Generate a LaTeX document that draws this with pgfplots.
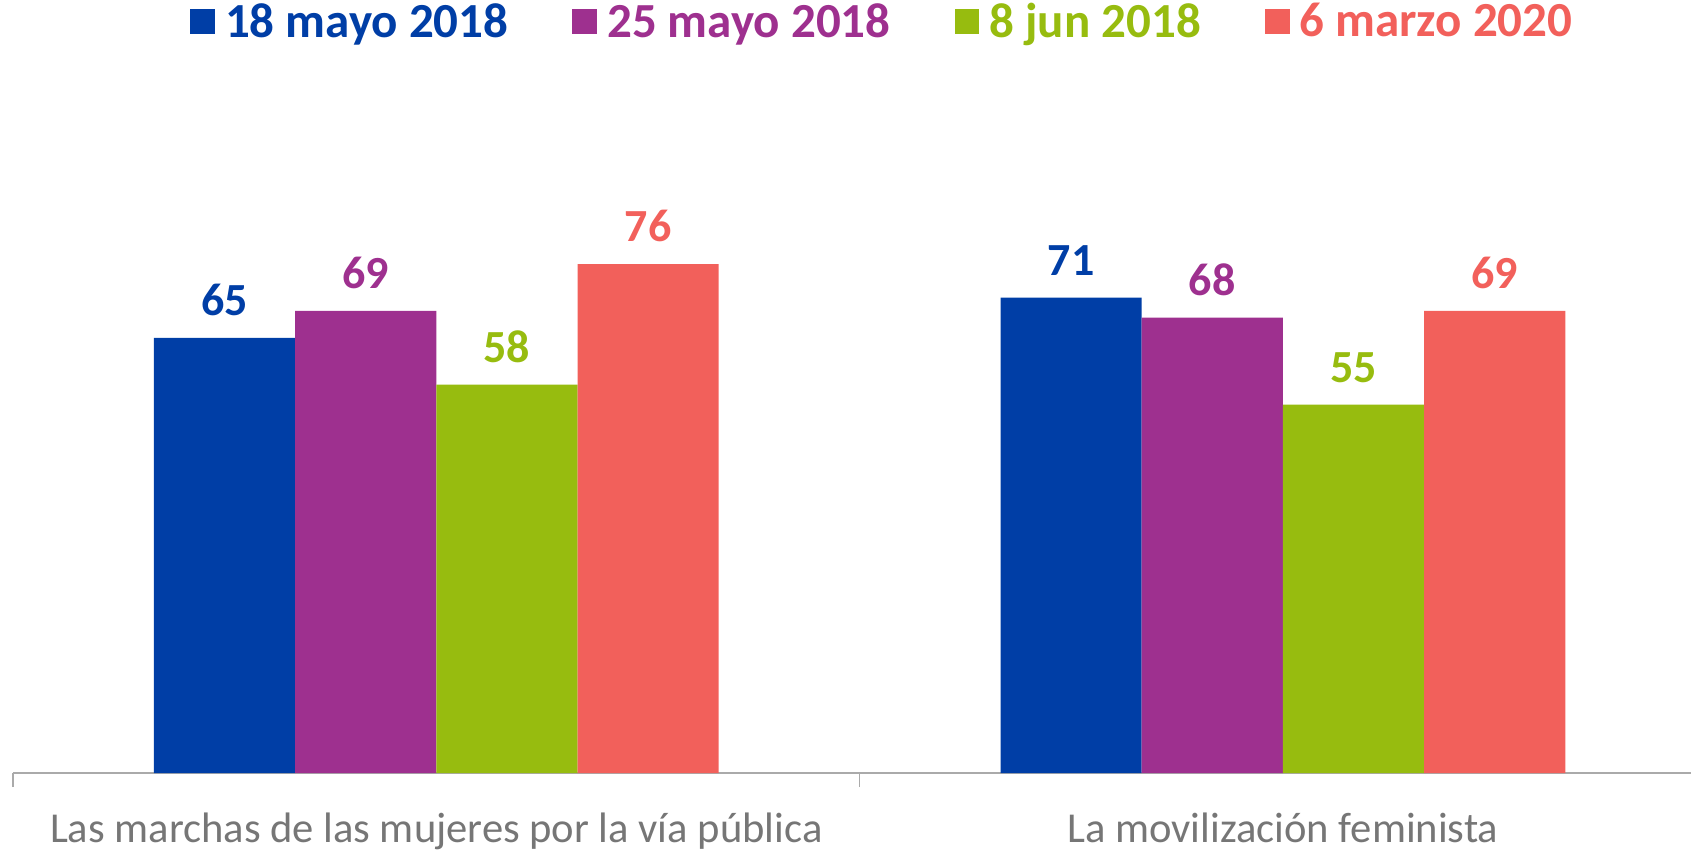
\documentclass[border=0pt]{standalone}
\usepackage{pgfplots}
\pgfplotsset{compat=1.18}
\usepackage{fontspec}
\setmainfont{Carlito}
\definecolor{cblue}{RGB}{0,62,166}
\definecolor{cpurple}{RGB}{158,48,143}
\definecolor{cgreen}{RGB}{151,188,15}
\definecolor{cred}{RGB}{242,96,91}
\definecolor{tickgray}{RGB}{118,118,118}
\definecolor{axgray}{RGB}{170,170,170}
\begin{document}
\begin{tikzpicture}
\begin{axis}[
  scale only axis,
  width=846.6pt, height=334.8pt,
  xmin=-0.5, xmax=1.5, ymin=0, ymax=100,
  enlargelimits=false, clip=false,
  ybar, bar width=70.6pt,
  /pgf/number format/assume math mode=true,
  axis y line=none,
  axis x line*=bottom,
  axis line style={axgray, line width=0.7pt},
  xtick={0,1},
  xticklabels={Las marchas de las mujeres por la vía pública, La movilización feminista},
  xtick style={draw=none},
  xticklabel style={font=\fontsize{21.3}{24}\selectfont, text=tickgray, yshift=-12pt},
  extra x ticks={-0.5,0.5,1.5},
  extra x tick labels={},
  extra x tick style={xtick style={draw=axgray, line width=0.7pt}, major tick length=7pt, tick align=outside},
  legend columns=4,
  legend style={draw=none, fill=none, at={(0.514,1.122)}, anchor=center,
    font=\bfseries\fontsize{24.5}{26}\selectfont,
    /tikz/every odd column/.append style={column sep=3pt},
    /tikz/every even column/.append style={column sep=30pt}},
  legend image code/.code={\fill[#1] (0pt,-6.2pt) rectangle (12.4pt,6.2pt);},
  every node near coord/.append style={font=\bfseries\fontsize{23}{25}\selectfont, yshift=7.5pt},
]
\addplot[fill=cblue, draw=none, bar shift=-105.9pt, nodes near coords, every node near coord/.append style={text=cblue}]
  coordinates {(0,65) (1,71)};
\addplot[fill=cpurple, draw=none, bar shift=-35.3pt, nodes near coords, every node near coord/.append style={text=cpurple}]
  coordinates {(0,69) (1,68)};
\addplot[fill=cgreen, draw=none, bar shift=35.3pt, nodes near coords, every node near coord/.append style={text=cgreen}]
  coordinates {(0,58) (1,55)};
\addplot[fill=cred, draw=none, bar shift=105.9pt, nodes near coords, every node near coord/.append style={text=cred}]
  coordinates {(0,76) (1,69)};
\legend{\textcolor{cblue}{18 mayo 2018}, \textcolor{cpurple}{25 mayo 2018}, \textcolor{cgreen}{8 jun 2018}, \textcolor{cred}{6 marzo 2020}}
\end{axis}
\pgfresetboundingbox
\useasboundingbox (-6.5pt,-39.5pt) rectangle (839pt,386.5pt);
\end{tikzpicture}
\end{document}
